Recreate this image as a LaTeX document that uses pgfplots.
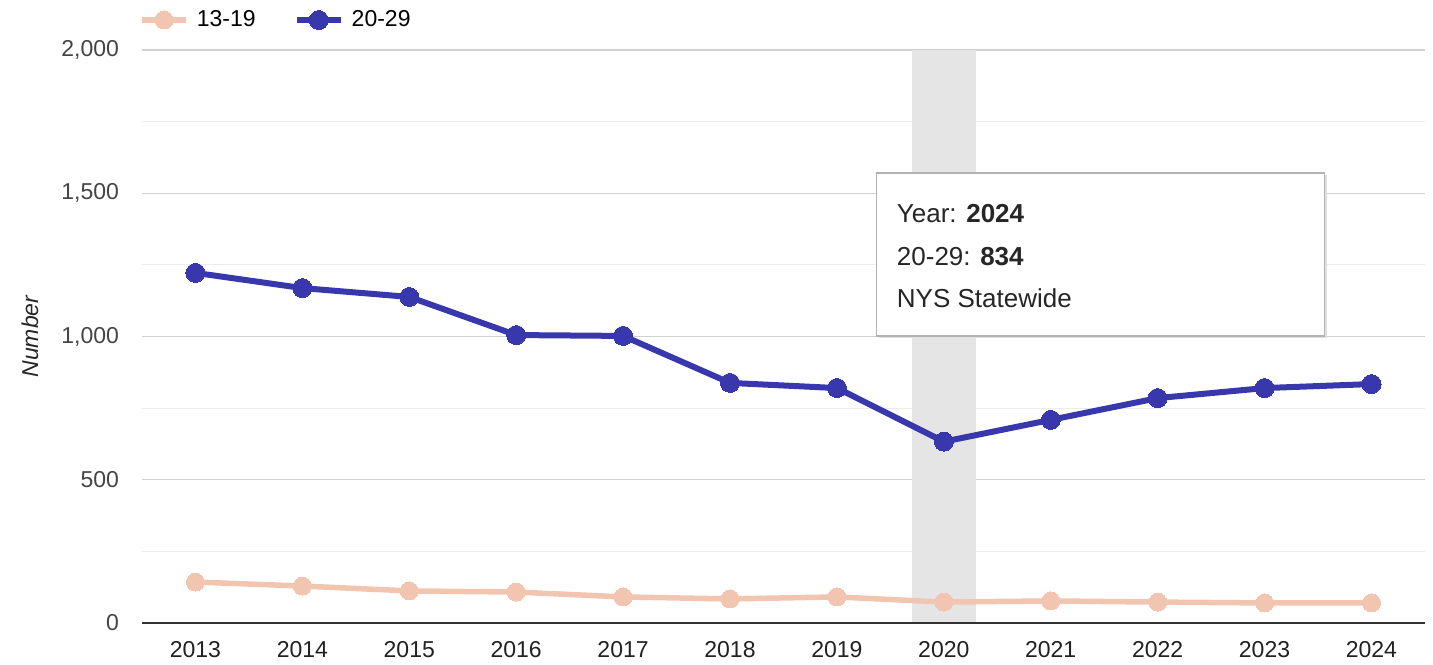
\documentclass[border=0pt]{standalone}
\usepackage{pgfplots}
\pgfplotsset{compat=1.18}
\usepackage{fontspec}
\setmainfont{Liberation Sans}
\definecolor{teen}{RGB}{241,197,176}
\definecolor{twen}{RGB}{56,56,172}
\definecolor{band}{RGB}{229,229,229}
\definecolor{majgrid}{RGB}{208,208,208}
\definecolor{mingrid}{RGB}{236,236,236}
\definecolor{ticktext}{RGB}{68,68,68}

\begin{document}
\begin{tikzpicture}
\path[use as bounding box] (0,0) rectangle (716.5pt,332pt);
\begin{axis}[
  at={(71pt,20.5pt)}, anchor=south west,
  scale only axis, width=641.5pt, height=286.5pt,
  xmin=2012.5, xmax=2024.5, ymin=0, ymax=2000,
  axis line style={draw=none},
  ytick={0,500,1000,1500,2000}, minor ytick={250,750,1250,1750},
  ymajorgrids, yminorgrids,
  major grid style={majgrid, line width=0.6pt},
  minor grid style={mingrid, line width=0.6pt},
  xtick={2013,...,2024},
  major tick length=0pt, minor tick length=0pt,
  /pgf/number format/assume math mode=true,
  tick label style={font=\fontsize{11.5}{13}\selectfont},
  x tick label style={/pgf/number format/1000 sep={}, yshift=-5.5pt, text=black!87},
  y tick label style={/pgf/number format/1000 sep={,}, xshift=-8pt, text=ticktext},
  ylabel={Number},
  ylabel style={font=\fontsize{11.5}{13}\selectfont\itshape, text=black!85,
    at={(axis description cs:-0.0873,0.5)}, anchor=center},
  legend style={draw=none, fill=none, at={(0,1)}, anchor=west, yshift=15pt, xshift=-1.5pt,
    font=\fontsize{11.5}{13}\selectfont, inner sep=0pt,
    /tikz/every even column/.append style={column sep=17pt},
    /tikz/every odd column/.append style={column sep=2pt}},
  legend columns=2,
  legend image code/.code={\draw[mark repeat=2,mark phase=2,#1]
    plot coordinates {(0pt,0pt) (11pt,0pt) (22pt,0pt)};},
]
\fill[band] (axis cs:2019.7,0) rectangle (axis cs:2020.3,2000);

\addplot[teen, line width=2.75pt, mark=*, mark size=4.5pt,
  mark options={fill=teen, draw=teen, line width=0pt}] coordinates {
  (2013,143) (2014,129) (2015,112) (2016,108) (2017,91) (2018,84)
  (2019,91) (2020,73) (2021,77) (2022,73) (2023,70) (2024,70)};
\addlegendentry{13-19}

\addplot[twen, line width=3pt, mark=*, mark size=4.75pt,
  mark options={fill=twen, draw=twen, line width=0pt}] coordinates {
  (2013,1222) (2014,1169) (2015,1138) (2016,1005) (2017,1002) (2018,838)
  (2019,820) (2020,633) (2021,709) (2022,785) (2023,820) (2024,834)};
\addlegendentry{20-29}

\draw[black!80, line width=0.8pt] (rel axis cs:0,0) -- (rel axis cs:1,0);

% tooltip
\fill[black!12] ([xshift=1pt,yshift=-1pt]axis cs:2019.37,1002) rectangle ([xshift=1pt,yshift=-1pt]axis cs:2023.56,1571);
\draw[black!30, fill=white, line width=0.6pt] (axis cs:2019.37,1002) rectangle (axis cs:2023.56,1571);
\begin{scope}[every node/.style={anchor=base west, inner sep=0pt, text=black!85,
    font=\fontsize{13}{15}\selectfont}]
\node at (axis cs:2019.37,1571) [xshift=10pt, yshift=-25pt] {Year: \textbf{2024}};
\node at (axis cs:2019.37,1571) [xshift=10pt, yshift=-46.5pt] {20-29: \textbf{834}};
\node at (axis cs:2019.37,1571) [xshift=10pt, yshift=-67.5pt] {NYS Statewide};
\end{scope}
\end{axis}
\end{tikzpicture}
\end{document}
